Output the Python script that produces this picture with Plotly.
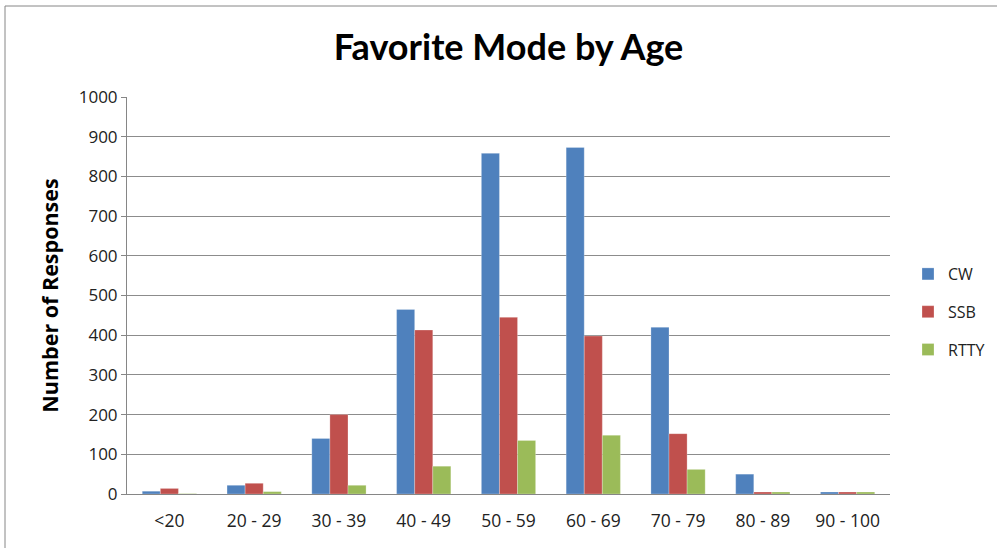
import plotly.graph_objects as go

categories = ["<20", "20 - 29", "30 - 39", "40 - 49", "50 - 59", "60 - 69", "70 - 79", "80 - 89", "90 - 100"]
cw = [7, 22, 140, 465, 858, 873, 420, 50, 5]
ssb = [14, 27, 200, 413, 445, 398, 152, 5, 5]
rtty = [1, 6, 22, 70, 135, 148, 62, 5, 5]
y_ticks = [0, 100, 200, 300, 400, 500, 600, 700, 800, 900, 1000]

series = [("CW", cw, "#4F81BD"), ("SSB", ssb, "#C0504D"), ("RTTY", rtty, "#9BBB59")]

fig = go.Figure()
for i, (name, vals, col) in enumerate(series):
    fig.add_trace(go.Bar(
        name=name, x=categories, y=vals,
        marker=dict(color=col, line=dict(color="rgba(255,255,255,0.5)", width=0.5)),
        legendgroup=name,
    ))

OFF = 0  # body margin removed by post_script
W, H = 997 - OFF, 548 - OFF
SX0, SX1, SY0, SY1 = 127, 890, 97, 494
L, R = SX0 - OFF, W - (SX1 - OFF)
T, B = SY0 - OFF, H - (SY1 - OFF)
pw, ph = W - L - R, H - T - B

def px_x(x):
    return (x - OFF - L) / pw

def px_y(y):
    return (H - B - (y - OFF)) / ph

TXT = "Open Sans, Lato, sans-serif"

fig.update_layout(
    width=W, height=H,
    margin=dict(l=L, r=R, t=T, b=B, autoexpand=False),
    paper_bgcolor="white", plot_bgcolor="white",
    barmode="group", bargap=0.36, bargroupgap=0,
    font=dict(family=TXT, color="#000000", size=16),
    title=dict(text="<b>Favorite Mode by Age</b>", x=0.5, xref="paper", xanchor="center",
               y=1 - (47 - OFF) / H, yanchor="middle",
               font=dict(size=36, family="Lato, Open Sans, sans-serif", color="#000")),
    xaxis=dict(showgrid=False, showline=True, linecolor="#868686", linewidth=1,
               ticks="outside", ticklen=11, tickcolor="rgba(0,0,0,0)",
               tickfont=dict(size=17.5, color="#222"), fixedrange=True),
    yaxis=dict(range=[0, 1000], tickvals=y_ticks, showgrid=True, gridcolor="#8c8c8c",
               gridwidth=1, showline=True, linecolor="#868686", linewidth=1,
               ticks="outside", ticklen=5, tickcolor="#868686", zeroline=False,
               tickfont=dict(size=17, color="#222"), automargin=False, fixedrange=True,
               title=dict(text="<b>Number of Responses</b>", font=dict(size=21.5), standoff=14)),
    legend=dict(x=px_x(908), xanchor="left", y=px_y(312), yanchor="middle",
                font=dict(size=16, color="#222"), tracegroupgap=14, bgcolor="rgba(0,0,0,0)",
                itemwidth=30),
    showlegend=True,
    shapes=[dict(type="rect", xref="paper", yref="paper",
                 x0=px_x(5), x1=px_x(1200), y0=px_y(700), y1=px_y(6),
                 line=dict(color="#868686", width=1), fillcolor="rgba(0,0,0,0)", layer="below")],
)

fig.write_html("out.html", config={"displayModeBar": False},
               post_script="document.body.style.margin='0';document.body.style.overflow='hidden';")
